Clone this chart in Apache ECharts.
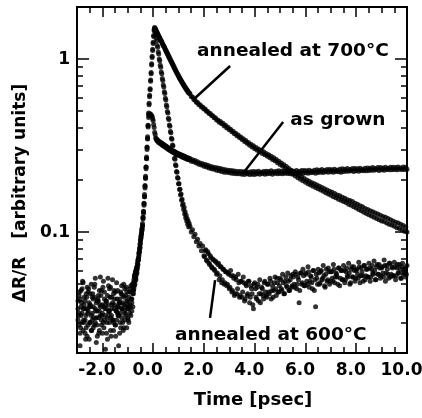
<!DOCTYPE html>
<html><head><meta charset="utf-8">
<script src="https://cdn.jsdelivr.net/npm/echarts@6/dist/echarts.min.js"></script>
<style>html,body{margin:0;padding:0;background:#fff}#c{width:422px;height:418px}</style>
</head><body><div id="c"></div>
<script>
// ---- time sampling of each stretch of the record (psec): start and step ----
const segPre   = {start: -2.96, step: 0.04};
const segPreB  = {start: -2.94, step: 0.04};
const segRise  = {start: -0.78, step: 0.02};
const segDecay = {start: 0.14,  step: 0.02};
const segTail  = {start: 1.45,  step: 0.05};
const segTail600b = {start: 2.025, step: 0.05};

// ---- annealed at 700 C ----
const pre700 = [0.036,0.029,0.041,0.033,0.047,0.027,0.038,0.031,0.044,0.025,
0.035,0.039,0.030,0.050,0.034,0.028,0.042,0.036,0.023,0.040,
0.032,0.046,0.037,0.029,0.034,0.052,0.031,0.038,0.026,0.043,
0.035,0.030,0.048,0.033,0.039,0.027,0.036,0.045,0.031,0.037,
0.022,0.041,0.034,0.049,0.030,0.038,0.035,0.043,0.028,0.040,
0.036,0.047,0.033,0.041,0.044];
const pre700b = [0.033,0.045,0.028,0.039,0.052,0.031,0.036,0.024,0.042,0.034,
0.047,0.030,0.037,0.027,0.044,0.032,0.050,0.035,0.029,0.041,
0.026,0.038,0.043,0.033,0.048,0.028,0.036,0.040,0.030,0.054,
0.034,0.042,0.025,0.038,0.031,0.046,0.029,0.035,0.041,0.033,
0.039,0.030,0.044,0.036,0.027,0.042,0.034,0.048,0.038,0.031,
0.045,0.037,0.041,0.050,0.046];
const rise700 = [0.046,0.053,0.049,0.057,0.054,0.060,0.057,0.063,0.062,0.069,
0.071,0.073,0.080,0.082,0.090,0.092,0.100,0.104,0.112,0.119,
0.132,0.143,0.165,0.180,0.210,0.232,0.272,0.300,0.356,0.405,
0.488,0.545,0.618,0.665,0.758,0.822,0.940,1.02,1.14,1.23,
1.37,1.46,1.52,1.50,1.48,1.46];
const decay700 = [1.44,1.42,1.40,1.38,1.36,1.34,1.33,1.30,1.29,1.27,
1.26,1.23,1.22,1.20,1.19,1.17,1.16,1.13,1.13,1.10,
1.10,1.07,1.07,1.04,1.04,1.01,1.01,0.986,0.982,0.959,
0.956,0.933,0.930,0.907,0.905,0.882,0.878,0.860,0.855,0.837,
0.832,0.816,0.811,0.795,0.791,0.775,0.772,0.757,0.754,0.739,
0.736,0.722,0.720,0.706,0.705,0.691,0.690,0.677,0.676,0.663,
0.662,0.650,0.649,0.637,0.636];
const tail700 = [0.630,0.608,0.604,0.584,0.581,0.562,0.561,0.544,0.544,0.528,
0.529,0.514,0.514,0.499,0.498,0.485,0.484,0.472,0.471,0.458,
0.458,0.445,0.445,0.432,0.436,0.423,0.425,0.411,0.414,0.400,
0.403,0.390,0.393,0.380,0.383,0.370,0.373,0.361,0.364,0.352,
0.355,0.343,0.346,0.334,0.338,0.326,0.330,0.318,0.322,0.310,
0.315,0.303,0.308,0.297,0.302,0.291,0.296,0.285,0.291,0.280,
0.285,0.274,0.280,0.269,0.274,0.263,0.269,0.258,0.263,0.252,
0.257,0.246,0.251,0.240,0.245,0.234,0.239,0.228,0.233,0.222,
0.227,0.216,0.222,0.211,0.217,0.206,0.212,0.202,0.208,0.198,
0.204,0.194,0.200,0.190,0.197,0.187,0.193,0.184,0.190,0.181,
0.187,0.178,0.184,0.175,0.181,0.172,0.178,0.169,0.175,0.166,
0.172,0.163,0.170,0.160,0.167,0.158,0.164,0.155,0.162,0.153,
0.159,0.150,0.157,0.148,0.154,0.145,0.152,0.143,0.150,0.140,
0.147,0.138,0.145,0.135,0.142,0.133,0.140,0.130,0.137,0.128,
0.135,0.126,0.133,0.124,0.131,0.122,0.129,0.120,0.127,0.118,
0.125,0.116,0.123,0.115,0.122,0.113,0.120,0.111,0.118,0.110,
0.116,0.108,0.114,0.106,0.113,0.105,0.111,0.103,0.109,0.101,
0.107,0.100];

// ---- as grown ----
const preGrown = [0.031,0.043,0.026,0.037,0.034,0.051,0.030,0.040,0.028,0.036,
0.045,0.024,0.038,0.033,0.042,0.037,0.029,0.054,0.032,0.035,
0.040,0.027,0.033,0.046,0.038,0.030,0.041,0.021,0.036,0.032,
0.049,0.035,0.027,0.042,0.031,0.044,0.038,0.029,0.051,0.034,
0.037,0.026,0.045,0.032,0.039,0.028,0.047,0.033,0.040,0.036,
0.030,0.038,0.045,0.035,0.048];
const riseGrown = [0.051,0.047,0.055,0.050,0.058,0.055,0.061,0.058,0.066,0.065,
0.069,0.076,0.077,0.085,0.086,0.095,0.097,0.102,0.109,0.122,
0.128,0.147,0.160,0.186,0.204,0.238,0.265,0.310,0.345,0.415,
0.460,0.472,0.474,0.483,0.476,0.477,0.468,0.466,0.452,0.442,
0.418,0.402,0.378,0.366,0.350,0.346];
const decayGrown = [0.340,0.343,0.334,0.337,0.329,0.334,0.326,0.331,0.324,0.328,
0.320,0.325,0.317,0.322,0.314,0.319,0.311,0.316,0.308,0.313,
0.305,0.309,0.302,0.307,0.299,0.304,0.297,0.301,0.294,0.299,
0.292,0.296,0.289,0.294,0.287,0.292,0.285,0.289,0.283,0.287,
0.281,0.286,0.279,0.284,0.277,0.282,0.276,0.280,0.274,0.279,
0.272,0.277,0.271,0.275,0.269,0.274,0.267,0.272,0.266,0.270,
0.264,0.269,0.263,0.267,0.262];
const tailGrown = [0.266,0.257,0.262,0.255,0.259,0.251,0.255,0.247,0.251,0.244,
0.248,0.240,0.246,0.238,0.243,0.235,0.240,0.232,0.238,0.231,
0.236,0.228,0.235,0.226,0.233,0.224,0.231,0.222,0.229,0.222,
0.228,0.220,0.227,0.219,0.226,0.218,0.225,0.217,0.224,0.217,
0.224,0.216,0.223,0.215,0.224,0.217,0.222,0.215,0.223,0.216,
0.224,0.215,0.223,0.217,0.225,0.216,0.222,0.218,0.224,0.216,
0.225,0.217,0.224,0.218,0.226,0.216,0.223,0.219,0.225,0.217,
0.226,0.218,0.224,0.217,0.225,0.219,0.223,0.218,0.226,0.217,
0.226,0.219,0.225,0.218,0.227,0.219,0.224,0.220,0.227,0.218,
0.227,0.220,0.226,0.219,0.228,0.220,0.225,0.221,0.228,0.219,
0.229,0.221,0.228,0.222,0.230,0.221,0.227,0.223,0.230,0.222,
0.230,0.223,0.229,0.222,0.231,0.224,0.228,0.223,0.231,0.222,
0.232,0.224,0.231,0.225,0.233,0.225,0.230,0.226,0.233,0.224,
0.233,0.226,0.232,0.225,0.234,0.227,0.231,0.226,0.234,0.226,
0.235,0.227,0.234,0.228,0.236,0.228,0.233,0.229,0.236,0.227,
0.236,0.229,0.235,0.228,0.237,0.230,0.234,0.229,0.237,0.229,
0.237,0.230,0.236,0.229,0.238,0.231,0.235,0.230,0.238,0.230,
0.237,0.231];

// ---- annealed at 600 C ----
const pre600 = [0.040,0.034,0.022,0.046,0.030,0.036,0.042,0.026,0.033,0.048,
0.029,0.037,0.044,0.027,0.031,0.041,0.048,0.030,0.039,0.025,
0.043,0.035,0.055,0.031,0.026,0.037,0.045,0.033,0.040,0.024,
0.038,0.047,0.032,0.036,0.053,0.030,0.041,0.025,0.035,0.046,
0.033,0.039,0.028,0.036,0.043,0.050,0.031,0.037,0.045,0.032,
0.042,0.034,0.049,0.039,0.037];
const rise600 = [0.044,0.050,0.056,0.052,0.059,0.053,0.062,0.060,0.064,0.068,
0.070,0.075,0.078,0.081,0.089,0.094,0.098,0.105,0.108,0.121,
0.131,0.146,0.160,0.184,0.206,0.238,0.266,0.308,0.348,0.412,
0.478,0.556,0.605,0.674,0.745,0.836,0.925,1.04,1.12,1.25,
1.35,1.48,1.51,1.44,1.38,1.32];
const decay600 = [1.27,1.20,1.17,1.10,1.07,1.00,0.978,0.921,0.897,0.842,
0.822,0.772,0.751,0.708,0.690,0.648,0.633,0.594,0.580,0.542,
0.531,0.497,0.488,0.455,0.447,0.416,0.409,0.381,0.375,0.349,
0.344,0.319,0.315,0.292,0.289,0.267,0.264,0.245,0.242,0.224,
0.222,0.207,0.205,0.190,0.190,0.176,0.177,0.164,0.166,0.153,
0.155,0.143,0.146,0.135,0.139,0.127,0.131,0.121,0.125,0.116,
0.120,0.111,0.116,0.107,0.112];
const tail600 = [0.108,0.100,0.103,0.094,0.097,0.088,0.091,0.083,0.086,0.078,
0.083,0.073,0.078,0.069,0.077,0.066,0.073,0.063,0.070,0.061,
0.068,0.057,0.065,0.053,0.063,0.051,0.061,0.050,0.059,0.049,
0.058,0.047,0.060,0.045,0.056,0.043,0.055,0.044,0.057,0.042,
0.052,0.042,0.055,0.040,0.050,0.043,0.052,0.039,0.049,0.044,
0.036,0.051,0.042,0.048,0.040,0.053,0.044,0.047,0.041,0.052,
0.043,0.050,0.045,0.054,0.041,0.049,0.046,0.055,0.043,0.051,
0.045,0.054,0.047,0.057,0.044,0.052,0.049,0.058,0.046,0.053,
0.048,0.057,0.050,0.059,0.047,0.055,0.039,0.058,0.050,0.061,
0.049,0.058,0.052,0.063,0.048,0.056,0.051,0.060,0.046,0.037,
0.054,0.061,0.050,0.059,0.053,0.064,0.049,0.057,0.052,0.062,
0.050,0.059,0.054,0.065,0.051,0.058,0.055,0.062,0.049,0.060,
0.053,0.064,0.051,0.059,0.056,0.066,0.050,0.061,0.055,0.063,
0.052,0.060,0.057,0.067,0.051,0.062,0.056,0.064,0.053,0.061,
0.055,0.066,0.052,0.061,0.058,0.068,0.053,0.063,0.057,0.065,
0.054,0.062,0.058,0.069,0.052,0.064,0.057,0.066,0.055,0.063,
0.056,0.067,0.053,0.062,0.058,0.065,0.054,0.063,0.057,0.061,
0.055,0.064];
// interleaved second set of 600 C samples in the noisy tail
const tail600b = [0.072,0.079,0.068,0.075,0.065,0.071,0.062,0.069,0.060,0.067,
0.058,0.066,0.056,0.063,0.053,0.061,0.051,0.059,0.050,0.057,
0.048,0.056,0.046,0.054,0.044,0.053,0.047,0.051,0.043,0.052,
0.045,0.051,0.041,0.049,0.044,0.052,0.042,0.047,0.038,0.050,
0.047,0.041,0.050,0.044,0.039,0.048,0.043,0.051,0.045,0.042,
0.050,0.044,0.052,0.046,0.042,0.051,0.047,0.054,0.045,0.049,
0.053,0.046,0.051,0.044,0.055,0.048,0.052,0.046,0.056,0.049,
0.055,0.048,0.057,0.050,0.053,0.046,0.058,0.051,0.056,0.049,
0.057,0.050,0.059,0.052,0.055,0.047,0.060,0.053,0.057,0.050,
0.058,0.051,0.060,0.054,0.056,0.048,0.061,0.053,0.059,0.052,
0.059,0.052,0.061,0.055,0.057,0.050,0.062,0.054,0.060,0.053,
0.060,0.053,0.062,0.055,0.058,0.051,0.063,0.055,0.060,0.054,
0.061,0.054,0.063,0.056,0.059,0.052,0.064,0.056,0.061,0.055,
0.062,0.055,0.064,0.057,0.060,0.053,0.065,0.057,0.062,0.056,
0.063,0.055,0.064,0.058,0.061,0.054,0.066,0.057,0.062,0.056,
0.063,0.056,0.065,0.058,0.061,0.054,0.066,0.058,0.062,0.057];

// ---- axes: ticks and labels ----
const xLabelValues = [-2, 0, 2, 4, 6, 8, 10];
const xMinorTicks = [-2.5,-2,-1.5,-1,-0.5,0,0.5,1,1.5,2,2.5,3,3.5,4,4.5,5,5.5,6,6.5,7,7.5,8,8.5,9,9.5];
const yLabelValues = [0.1, 1];
const yMinorTicks = [0.03,0.04,0.05,0.06,0.07,0.08,0.09,0.2,0.3,0.4,0.5,0.6,0.7,0.8,0.9];

// ---- annotations (data coordinates) ----
const annotationTexts = ['annealed at 700°C', 'as grown', 'annealed at 600°C'];
const annotationAnchors = [[1.73, 1.114], [5.40, 0.445], [0.86, 0.0254]];
const annotationLines = [
  [[3.03, 0.912], [1.61, 0.588]],
  [[5.12, 0.433], [3.58, 0.2226]],
  [[2.24, 0.0319], [2.44, 0.0528]]
];

function pairs(seg, vals) { return vals.map((v, i) => [+(seg.start + i * seg.step).toFixed(3), v]); }
function build(pre, rise, decay, tail) {
  return [].concat(pairs(segPre, pre), pairs(segRise, rise), pairs(segDecay, decay), pairs(segTail, tail));
}

const FONT = 'DejaVu Sans';
const BLACK = '#000';
const X_MIN = -3, X_MAX = 10;
const Y_MIN = 0.02, Y_MAX = 2;

function xAxisDef(pos, ticks, len, labels) {
  return {
    type: 'value', min: X_MIN, max: X_MAX, position: pos, gridIndex: 0,
    axisLine: {show: true, onZero: false, lineStyle: {color: BLACK, width: 2}},
    axisTick: {show: true, inside: true, length: len, customValues: ticks, lineStyle: {color: BLACK, width: 1.5}},
    axisLabel: {show: !!labels, customValues: labels || ticks, margin: 9, color: BLACK,
      fontFamily: FONT, fontWeight: 'bold', fontSize: 17, padding: [0, 11, 0, 0],
      formatter: v => Number(v).toFixed(1)},
    splitLine: {show: false}, minorTick: {show: false}
  };
}
function yAxisDef(pos, ticks, len, labels) {
  return {
    type: 'log', logBase: 10, min: Y_MIN, max: Y_MAX, position: pos, gridIndex: 0,
    axisLine: {show: true, onZero: false, lineStyle: {color: BLACK, width: 2}},
    axisTick: {show: true, inside: true, length: len, customValues: ticks, lineStyle: {color: BLACK, width: 1.5}},
    axisLabel: {show: !!labels, customValues: labels || ticks, margin: 7, color: BLACK,
      fontFamily: FONT, fontWeight: 'bold', fontSize: 17,
      formatter: v => String(+Number(v).toPrecision(3))},
    splitLine: {show: false}, minorTick: {show: false}
  };
}

const xAxes = [
  xAxisDef('bottom', xLabelValues, 10, xLabelValues),
  xAxisDef('bottom', xMinorTicks, 6, null),
  xAxisDef('top', xLabelValues, 10, null),
  xAxisDef('top', xMinorTicks, 6, null)
];
Object.assign(xAxes[0], {name: 'Time [psec]', nameLocation: 'middle', nameGap: 38,
  nameTextStyle: {color: BLACK, fontFamily: FONT, fontWeight: 'bold', fontSize: 18, padding: [0, 0, 0, 22]}});
const yAxes = [
  yAxisDef('left', yLabelValues, 12, yLabelValues),
  yAxisDef('left', yMinorTicks, 6, null),
  yAxisDef('right', yLabelValues, 12, null),
  yAxisDef('right', yMinorTicks, 6, null)
];
Object.assign(yAxes[0], {name: 'ΔR/R   [arbitrary units]', nameLocation: 'middle', nameGap: 33, nameRotate: 90,
  nameTextStyle: {color: BLACK, fontFamily: FONT, fontWeight: 'bold', fontSize: 17, padding: [0, 26, 0, 0]}});

function scatter(name, data) {
  return {name, type: 'scatter', xAxisIndex: 0, yAxisIndex: 0, data, symbol: 'circle', symbolSize: 5,
    itemStyle: {color: BLACK}, silent: true, animation: false, large: false};
}

const chart = echarts.init(document.getElementById('c'), null, {renderer: 'canvas'});
chart.setOption({
  animation: false,
  backgroundColor: '#fff',
  grid: {left: 77, top: 7, width: 330, height: 346, containLabel: false, outerBoundsMode: 'none'},
  xAxis: xAxes,
  yAxis: yAxes,
  series: [
    scatter('annealed at 700°C', build(pre700, rise700, decay700, tail700).concat(pairs(segPreB, pre700b))),
    scatter('as grown', build(preGrown, riseGrown, decayGrown, tailGrown)),
    scatter('annealed at 600°C', build(pre600, rise600, decay600, tail600).concat(pairs(segTail600b, tail600b)))
  ]
});

const g = [];
annotationLines.forEach(l => {
  const p1 = chart.convertToPixel({seriesIndex: 0}, l[0]);
  const p2 = chart.convertToPixel({seriesIndex: 0}, l[1]);
  g.push({type: 'line', z: 100, shape: {x1: p1[0], y1: p1[1], x2: p2[0], y2: p2[1]},
    style: {stroke: BLACK, lineWidth: 2.5}});
});
annotationTexts.forEach((t, i) => {
  const p = chart.convertToPixel({seriesIndex: 0}, annotationAnchors[i]);
  g.push({type: 'text', z: 100, x: p[0], y: p[1],
    style: {text: t, fill: BLACK, fontFamily: FONT, fontWeight: 'bold', fontSize: 18.5, align: 'left', verticalAlign: 'middle'}});
});
chart.setOption({graphic: g});
</script>
</body></html>
